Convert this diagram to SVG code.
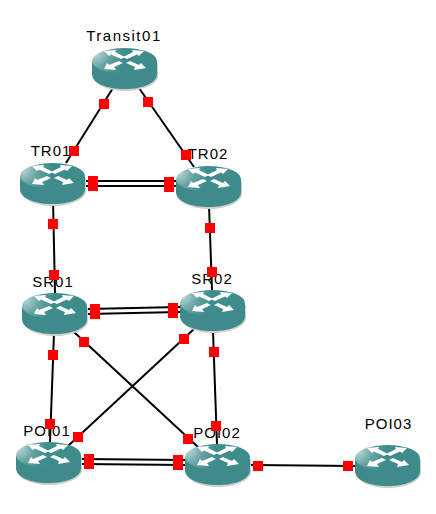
<svg xmlns="http://www.w3.org/2000/svg" width="436" height="514" viewBox="0 0 436 514">
<style>
.l{stroke:#000;stroke-width:2;fill:none}
.p{fill:#f00}
text{font-family:"Liberation Sans",Arial,sans-serif;font-size:15px;letter-spacing:1px;fill:#000;text-anchor:middle}
.arrow{fill:#fff}
</style>
<defs>
<radialGradient id="top" gradientUnits="userSpaceOnUse" cx="3" cy="6" r="28">
<stop offset="0" stop-color="#bcd8d8"/><stop offset="0.5" stop-color="#69a5a5"/><stop offset="1" stop-color="#3f8c8c"/>
</radialGradient>
<g id="router">
<path d="M1 15V28C1 36 15 43 33 43S66 36 66 28V15Z" fill="#cfcfcf"/>
<path d="M0 14V26C0 35 14 41 32.500 41S65 35 65 26V14Z" fill="#3f8b8b"/>
<ellipse cx="32.500" cy="13" rx="32.500" ry="13" fill="url(#top)"/>
<path class="arrow" d="M12 3L24 2L23 4L33 9L29 11L19 6.500L17 8Z"/>
<path class="arrow" d="M51 3L39 2L40 4L30 9L34 11L44 6.500L46 8Z" transform="translate(1 0)"/>
<path class="arrow" d="M12 21L24 22L22 19L31 15L27 13L17 17L15 15Z"/>
<path class="arrow" d="M54 20L42 22L43 19L34 15L38 13L47 17L49 15Z"/>
</g>
</defs>
<g id="connectors">
<path class="l" d="M113 88L66 163"/><path class="l" d="M139 88L194 167"/>
<path class="l" d="M85 181H176M85 186H176"/>
<path class="l" d="M53 200L55 293"/><path class="l" d="M209 205L212 290"/>
<path class="l" d="M87 309L180 307M87 314L180 312"/>
<path class="l" d="M54 333L50 442"/><path class="l" d="M213 331L217 444"/>
<path class="l" d="M74 332L198 447"/><path class="l" d="M194 329L68 446"/>
<path class="l" d="M81 459L185 460M81 464L185 465"/>
<path class="l" d="M250 465L355 466"/>
</g>
<g id="Transit01"><use href="#router" x="92" y="48"/><text x="124" y="41" style="letter-spacing:1.500px">Transit01</text></g>
<g id="TR01"><use href="#router" x="20" y="163"/><text x="51" y="156">TR01</text></g>
<g id="TR02"><use href="#router" x="176" y="166"/><text x="208" y="159">TR02</text></g>
<g id="SR01"><use href="#router" x="22" y="293"/><text x="53" y="287">SR01</text></g>
<g id="SR02"><use href="#router" x="180" y="290"/><text x="212" y="284">SR02</text></g>
<g id="POI01"><use href="#router" x="16" y="442"/><text x="47" y="436">POI01</text></g>
<g id="POI02"><use href="#router" x="185" y="444"/><text x="217" y="438">POI02</text></g>
<g id="POI03"><use href="#router" x="355" y="445"/><text x="388.500" y="429">POI03</text></g>
<g id="ports">
<rect class="p" x="99" y="99" width="10" height="10"/>
<rect class="p" x="143" y="97" width="10" height="10"/>
<rect class="p" x="69" y="146" width="10" height="10"/>
<rect class="p" x="181" y="150" width="10" height="10"/>
<rect class="p" x="88" y="176" width="10" height="15"/>
<rect class="p" x="164" y="177" width="10" height="15"/>
<rect class="p" x="48" y="219" width="10" height="10"/>
<rect class="p" x="205" y="223" width="10" height="10"/>
<rect class="p" x="49" y="270" width="10" height="10"/>
<rect class="p" x="207" y="267" width="10" height="10"/>
<rect class="p" x="90" y="304" width="10" height="15"/>
<rect class="p" x="168" y="303" width="10" height="15"/>
<rect class="p" x="48" y="350" width="10" height="10"/>
<rect class="p" x="79" y="337" width="10" height="10"/>
<rect class="p" x="179" y="334" width="10" height="10"/>
<rect class="p" x="209" y="347" width="10" height="10"/>
<rect class="p" x="45" y="419" width="10" height="10"/>
<rect class="p" x="211" y="421" width="10" height="10"/>
<rect class="p" x="73" y="432" width="10" height="10"/>
<rect class="p" x="183" y="434" width="10" height="10"/>
<rect class="p" x="84" y="454" width="10" height="15"/>
<rect class="p" x="173" y="455" width="10" height="15"/>
<rect class="p" x="253" y="461" width="10" height="10"/>
<rect class="p" x="343" y="461" width="10" height="10"/>
</g>
</svg>
